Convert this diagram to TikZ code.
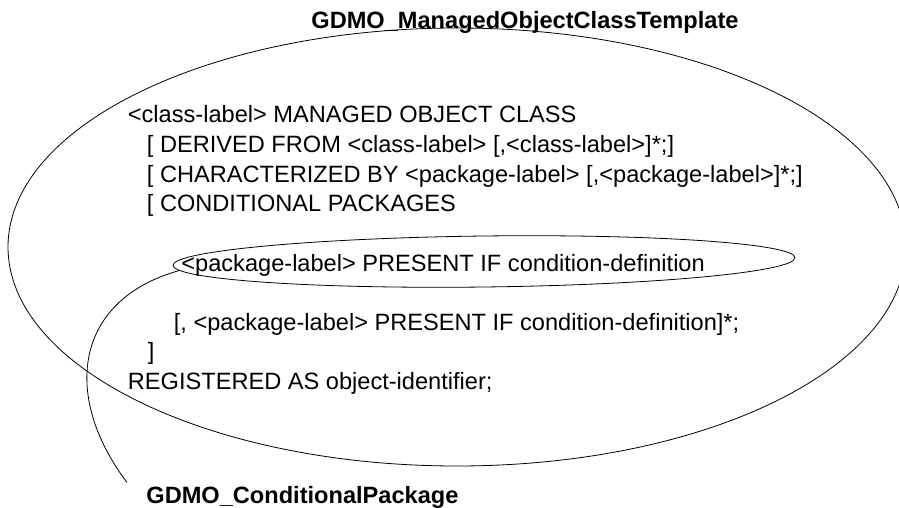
\documentclass[tikz,border=0pt]{standalone}
\usepackage{fontspec}
\setmainfont{Liberation Sans}
\usetikzlibrary{shapes.geometric}
\begin{document}
\begin{tikzpicture}[x=1pt,y=-1pt,line width=0.8pt,
  txt/.style={anchor=base west,inner sep=0pt,font=\fontsize{23.6}{29.6}\selectfont},
  ttl/.style={anchor=base west,inner sep=0pt,font=\fontsize{23.6}{29.6}\selectfont\bfseries},
  oval/.style={draw,ellipse,inner sep=0pt}]
\clip (0,0) rectangle (899,508);
% big ellipse: managed object class template
\node[oval,minimum width=898pt,minimum height=438pt] (mo) at (457,247) {};
\node[ttl] (title) at (311,29) {GDMO\_ManagedObjectClassTemplate};
\node[txt] (l0) at (127.5,123) {<class-label> MANAGED OBJECT CLASS};
\node[txt] (l1) at (146.5,152.6) {[ DERIVED FROM <class-label> [,<class-label>]*;]};
\node[txt] (l2) at (146.5,182.2) {[ CHARACTERIZED BY <package-label> [,<package-label>]*;]};
\node[txt] (l3) at (146.5,211.8) {[ CONDITIONAL PACKAGES};
% small ellipse: conditional package
\node[oval,minimum width=622pt,minimum height=51pt,rotate=0.7] (pkg) at (484,261.5) {};
\node[txt] (l5) at (181,271) {<package-label> PRESENT IF condition-definition};
\node[txt] (l7) at (173.5,330.2) {[, <package-label> PRESENT IF condition-definition]*;};
\node[txt] (l8) at (147.5,359.8) {]};
\node[txt] (l9) at (127.5,389.4) {REGISTERED AS object-identifier;};
\node[ttl,inner xsep=19pt,inner ysep=3pt] (cond) at (127,503) {GDMO\_ConditionalPackage};
% connector
\draw (pkg.181.3) .. controls (75,299.5) and (61,395) .. (cond.north west);
\end{tikzpicture}
\end{document}
